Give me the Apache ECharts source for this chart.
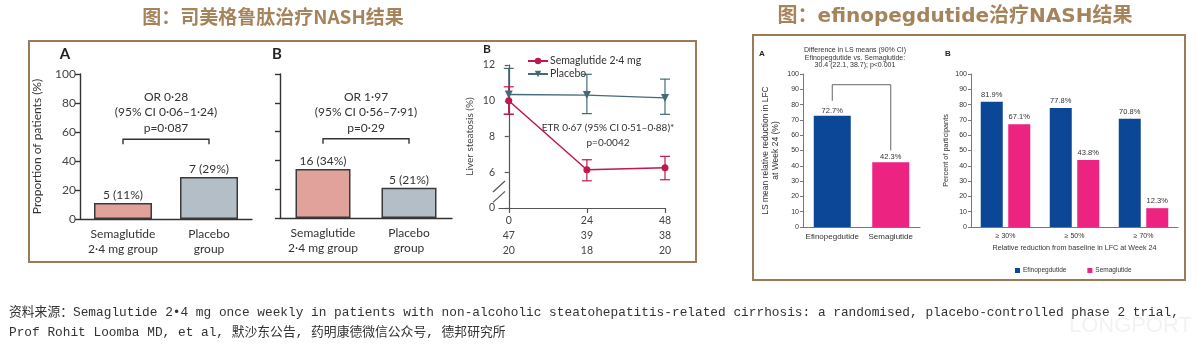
<!DOCTYPE html>
<html><head><meta charset="utf-8">
<script src="https://cdn.jsdelivr.net/npm/echarts@6/dist/echarts.min.js"></script>
<style>html,body{margin:0;padding:0;background:#fff}#c{width:1197px;height:348px}</style>
</head><body><div id="c"></div>
<script>
// ---------- data ----------
const catsA = ['Semaglutide\n2·4 mg group', 'Placebo\ngroup'];
const countsA = [5, 7];
const pctA = [11, 29];
const countsB = [16, 5];
const pctB = [34, 21];
const annotA = ['OR 0·28', '(95% CI 0·06–1·24)', 'p=0·087'];
const annotB = ['OR 1·97', '(95% CI 0·56–7·91)', 'p=0·29'];

const weeks = [0, 24, 48];
const nSema = [47, 39, 38];
const nPlac = [20, 18, 20];
const semaMean = [10.0, 6.14, 6.25];
const semaLow = [9.24, 5.52, 5.58];
const semaHigh = [10.78, 6.70, 6.89];
const placMean = [10.35, 10.32, 10.16];
const placLow = [9.25, 9.28, 9.24];
const placHigh = [11.81, 11.48, 11.21];
const annotLine = ['ETR 0·67 (95% CI 0·51–0·88)*', 'p=0·0042'];

const efCatsA = ['Efinopegdutide', 'Semaglutide'];
const efValsA = [72.7, 42.3];
const annotEf = ['Difference in LS means (90% CI)', 'Efinopegdutide vs. Semaglutide:', '30.4 (22.1, 38.7); p<0.001'];
const efCatsB = ['≥ 30%', '≥ 50%', '≥ 70%'];
const efinoB = [81.9, 77.8, 70.8];
const semaB = [67.1, 43.8, 12.3];

const titleLeft = '图：司美格鲁肽治疗NASH结果';
const titleRight = '图：efinopegdutide治疗NASH结果';
const source1 = '资料来源：Semaglutide 2•4 mg once weekly in patients with non-alcoholic steatohepatitis-related cirrhosis: a randomised, placebo-controlled phase 2 trial,';
const source2 = 'Prof Rohit Loomba MD, et al, 默沙东公告, 药明康德微信公众号, 德邦研究所';

// ---------- styles ----------
const LF = 'Lato, "Open Sans", sans-serif';
const AF = '"Liberation Sans", Arial, sans-serif';
const ink = '#333';
const cSal = '#e0a29b', cGrey = '#b4bec7';
const cSema = '#c0174c', cPlac = '#426b75';
const cBlue = '#0c4696', cPink = '#ec2380';
const LFS = 12;

const chart = echarts.init(document.getElementById('c'), null, {renderer: 'canvas'});

function lancetCatAxis(grid) {
  return {type: 'category', gridIndex: grid, data: catsA,
    axisLine: {lineStyle: {color: ink, width: 1.4}},
    axisTick: {length: 5, lineStyle: {color: ink, width: 1.4}},
    axisLabel: {interval: 0, color: ink, fontFamily: LF, fontSize: LFS, lineHeight: 15, margin: 8}};
}
function lancetValAxis(grid, showLabel) {
  return {type: 'value', gridIndex: grid, min: 0, max: 100, interval: 20,
    axisLine: {show: true, lineStyle: {color: ink, width: 1.4}},
    axisTick: {show: true, length: 5, lineStyle: {color: ink, width: 1.4}},
    axisLabel: {show: showLabel, color: '#444', fontFamily: LF, fontSize: LFS, margin: 4},
    splitLine: {show: false}};
}
function efCatAxis(grid, data, fs) {
  return {type: 'category', gridIndex: grid, data: data,
    axisLine: {lineStyle: {color: '#777', width: 1}},
    axisTick: {length: 3, lineStyle: {color: '#777'}},
    axisLabel: {interval: 0, color: '#333', fontFamily: AF, fontSize: fs, margin: 6}};
}
function efValAxis(grid, name, gap, nfs) {
  return {type: 'value', gridIndex: grid, min: 0, max: 100, interval: 10,
    name: name, nameLocation: 'middle', nameGap: gap,
    nameTextStyle: {color: '#333', fontFamily: AF, fontSize: nfs, lineHeight: 10},
    axisLine: {show: true, lineStyle: {color: '#777', width: 1}},
    axisTick: {show: true, length: 3, lineStyle: {color: '#777'}},
    axisLabel: {color: '#333', fontFamily: AF, fontSize: 7, margin: 4},
    splitLine: {show: false}};
}

function bracketRender(color, lw) {
  return function (params, api) {
    const x0 = api.value(0), x1 = api.value(1), yTop = api.value(2), yL = api.value(3), yR = api.value(4);
    const a = api.coord([x0, yL]), b = api.coord([x0, yTop]), c = api.coord([x1, yTop]), d = api.coord([x1, yR]);
    return {type: 'polyline', shape: {points: [a, b, c, d]}, style: {stroke: color, lineWidth: lw, fill: null}};
  };
}
function errRender(color) {
  return function (params, api) {
    const x = api.value(0);
    const lo = api.coord([x, api.value(1)]), hi = api.coord([x, api.value(2)]);
    const w = 5;
    return {type: 'group', children: [
      {type: 'line', shape: {x1: lo[0], y1: lo[1], x2: hi[0], y2: hi[1]}, style: {stroke: color, lineWidth: 1.2}},
      {type: 'line', shape: {x1: lo[0] - w, y1: lo[1], x2: lo[0] + w, y2: lo[1]}, style: {stroke: color, lineWidth: 1.2}},
      {type: 'line', shape: {x1: hi[0] - w, y1: hi[1], x2: hi[0] + w, y2: hi[1]}, style: {stroke: color, lineWidth: 1.2}}
    ]};
  };
}
function breakRender(params, api) {
  const x = api.value(0);
  const t = api.coord([x, api.value(1)]), b = api.coord([x, api.value(2)]);
  const dx = 6, dy = 5.5;
  return {type: 'group', children: [
    {type: 'rect', shape: {x: t[0] - 3, y: t[1] + 1, width: 6, height: b[1] - t[1] - 2}, style: {fill: '#fff'}},
    {type: 'line', shape: {x1: t[0] - dx, y1: t[1] + dy, x2: t[0] + dx, y2: t[1] - dy}, style: {stroke: '#555', lineWidth: 1.2}},
    {type: 'line', shape: {x1: b[0] - dx, y1: b[1] + dy, x2: b[0] + dx, y2: b[1] - dy}, style: {stroke: '#555', lineWidth: 1.2}}
  ]};
}

function txt(x, y, s, font, fill, align) {
  return {type: 'text', x: x, y: y, silent: true,
    style: {text: s, font: font, fill: fill || ink, textAlign: align || 'center', textVerticalAlign: 'middle'}};
}

const graphics = [
  {type: 'rect', shape: {x: 29, y: 41, width: 667, height: 221}, style: {stroke: '#9c7a56', lineWidth: 2, fill: null}, silent: true},
  {type: 'rect', shape: {x: 753, y: 35, width: 432, height: 245}, style: {stroke: '#9c7a56', lineWidth: 2, fill: null}, silent: true},
  txt(273, 17, titleLeft, 'bold 19px "Noto Sans CJK SC"', '#a5845c'),
  txt(955, 17, titleRight, 'bold 20px "DejaVu Sans", "Noto Sans CJK SC"', '#a5845c'),
  txt(65, 54, 'A', 'bold 15px ' + LF, '#222'),
  txt(277, 54, 'B', 'bold 15px ' + LF, '#222'),
  txt(487, 49, 'B', 'bold 12px ' + LF, '#222'),
  txt(762, 54, 'A', 'bold 8px ' + AF, '#222'),
  txt(948, 54, 'B', 'bold 8px ' + AF, '#222'),
  txt(9, 313, source1, '12.8px "Liberation Mono", "Noto Sans CJK SC"', '#333', 'left'),
  txt(9, 333, source2, '12.8px "Liberation Mono", "Noto Sans CJK SC"', '#333', 'left'),
  txt(1192, 326, 'LONGPORT', '22px "Liberation Sans"', 'rgba(0,0,0,0.05)', 'right')
];
annotA.forEach((s, i) => graphics.push(txt(166, 97 + i * 15.5, s, LFS + 'px ' + LF, ink)));
annotB.forEach((s, i) => graphics.push(txt(366, 97 + i * 15.5, s, LFS + 'px ' + LF, ink)));
annotLine.forEach((s, i) => graphics.push(txt(608, 128 + i * 15, s, '10px ' + LF, ink)));
annotEf.forEach((s, i) => graphics.push(txt(855, 50.5 + i * 7.2, s, '7px ' + AF, '#333')));

const option = {
  animation: false,
  backgroundColor: '#fff',
  textStyle: {fontFamily: LF},
  grid: [
    {left: 80, top: 74, width: 172, height: 145},
    {left: 280, top: 74, width: 172, height: 144},
    {left: 499, top: 65, width: 166, height: 143},
    {left: 803, top: 74, width: 117, height: 153},
    {left: 971, top: 74, width: 207, height: 153}
  ],
  legend: [
    {data: ['Semaglutide 2·4 mg', 'Placebo'], orient: 'vertical', left: 522, top: 50, itemGap: 1,
      itemWidth: 20, itemHeight: 8, selectedMode: false,
      textStyle: {color: ink, fontFamily: LF, fontSize: 10.5, lineHeight: 12, padding: [0, 0, 0, -3]}},
    {data: ['Efinopegdutide', 'Semaglutide'], left: 1010, top: 262, itemGap: 21, icon: 'rect',
      itemWidth: 5, itemHeight: 5, selectedMode: false,
      textStyle: {color: '#333', fontFamily: AF, fontSize: 6.5, padding: [0, 0, 0, -2]}}
  ],
  xAxis: [
    lancetCatAxis(0),
    lancetCatAxis(1),
    {type: 'value', gridIndex: 2, min: -3, max: 48,
      axisLine: {lineStyle: {color: '#555', width: 1.2}},
      axisTick: {customValues: weeks, length: 5, lineStyle: {color: '#555', width: 1.2}},
      axisLabel: {customValues: weeks, color: '#444', fontFamily: LF, fontSize: 10.5, lineHeight: 15, margin: 5,
        formatter: v => { const i = weeks.indexOf(v); return i < 0 ? '' : v + '\n' + nSema[i] + '\n' + nPlac[i]; }},
      splitLine: {show: false}},
    efCatAxis(3, efCatsA, 8),
    Object.assign(efCatAxis(4, efCatsB, 7), {name: 'Relative reduction from baseline in LFC at Week 24',
      nameLocation: 'middle', nameGap: 18, nameTextStyle: {color: '#333', fontFamily: AF, fontSize: 7.2}})
  ],
  yAxis: [
    Object.assign(lancetValAxis(0, true), {name: 'Proportion of patients (%)', nameLocation: 'middle', nameGap: 37,
      nameTextStyle: {color: ink, fontFamily: LF, fontSize: LFS}}),
    lancetValAxis(1, false),
    {type: 'value', gridIndex: 2, min: 4, max: 12, interval: 2,
      name: 'Liver steatosis (%)', nameLocation: 'middle', nameGap: 24,
      nameTextStyle: {color: '#444', fontFamily: LF, fontSize: 10},
      axisLine: {show: true, lineStyle: {color: '#555', width: 1.2}},
      axisTick: {show: true, length: 4, lineStyle: {color: '#555', width: 1.2}},
      axisLabel: {color: '#444', fontFamily: LF, fontSize: 10.5, margin: 4, formatter: v => v === 4 ? '0' : String(v)},
      splitLine: {show: false}},
    efValAxis(3, 'LS mean relative reduction in LFC\nat Week 24 (%)', 22, 8.5),
    efValAxis(4, 'Percent of participants', 19, 7.3)
  ],
  series: [
    {type: 'bar', name: 'A', xAxisIndex: 0, yAxisIndex: 0, barWidth: 58,
      data: pctA.map((v, i) => ({value: v, itemStyle: {color: i === 0 ? cSal : cGrey}})),
      itemStyle: {borderColor: '#3a3a3a', borderWidth: 1.5},
      label: {show: true, position: 'top', distance: 2, color: ink, fontFamily: LF, fontSize: LFS,
        formatter: p => countsA[p.dataIndex] + ' (' + pctA[p.dataIndex] + '%)'}},
    {type: 'bar', name: 'B', xAxisIndex: 1, yAxisIndex: 1, barWidth: 55,
      data: pctB.map((v, i) => ({value: v, itemStyle: {color: i === 0 ? cSal : cGrey}})),
      itemStyle: {borderColor: '#3a3a3a', borderWidth: 1.5},
      label: {show: true, position: 'top', distance: 2, color: ink, fontFamily: LF, fontSize: LFS,
        formatter: p => countsB[p.dataIndex] + ' (' + pctB[p.dataIndex] + '%)'}},
    {type: 'custom', xAxisIndex: 0, yAxisIndex: 0, silent: true, renderItem: bracketRender(ink, 1.4),
      data: [[0, 1, 55, 51.5, 51.5]], encode: {x: 0, y: 2}},
    {type: 'custom', xAxisIndex: 1, yAxisIndex: 1, silent: true, renderItem: bracketRender(ink, 1.4),
      data: [[0, 1, 55, 51.5, 51.5]], encode: {x: 0, y: 2}},
    {type: 'custom', xAxisIndex: 2, yAxisIndex: 2, silent: true, renderItem: errRender(cPlac),
      data: weeks.map((w, i) => [w, placLow[i], placHigh[i]]), encode: {x: 0, y: [1, 2]}},
    {type: 'custom', xAxisIndex: 2, yAxisIndex: 2, silent: true, renderItem: errRender(cSema),
      data: weeks.map((w, i) => [w, semaLow[i], semaHigh[i]]), encode: {x: 0, y: [1, 2]}},
    {type: 'line', name: 'Placebo', xAxisIndex: 2, yAxisIndex: 2, color: cPlac,
      data: weeks.map((w, i) => [w, placMean[i]]), symbol: 'triangle', symbolRotate: 180, symbolSize: 8,
      lineStyle: {width: 1.3, color: cPlac}, itemStyle: {color: cPlac}},
    {type: 'line', name: 'Semaglutide 2·4 mg', xAxisIndex: 2, yAxisIndex: 2, color: cSema,
      data: weeks.map((w, i) => [w, semaMean[i]]), symbol: 'circle', symbolSize: 7,
      lineStyle: {width: 1.5, color: cSema}, itemStyle: {color: cSema}},
    {type: 'custom', xAxisIndex: 2, yAxisIndex: 2, silent: true, renderItem: breakRender, z: 10,
      data: [[-3, 5.2, 4.62]], encode: {x: 0, y: [1, 2]}},
    {type: 'bar', name: 'LS mean', xAxisIndex: 3, yAxisIndex: 3, barWidth: 37,
      data: efValsA.map((v, i) => ({value: v, itemStyle: {color: i === 0 ? cBlue : cPink}})),
      label: {show: true, position: 'top', distance: 1, color: '#333', fontFamily: AF, fontSize: 7.5,
        formatter: p => p.value + '%'}},
    {type: 'custom', xAxisIndex: 3, yAxisIndex: 3, silent: true, renderItem: bracketRender('#666', 1),
      data: [[0, 1, 93, 82.5, 50]], encode: {x: 0, y: 2}},
    {type: 'bar', name: 'Efinopegdutide', xAxisIndex: 4, yAxisIndex: 4, barWidth: 22, barGap: '25%',
      data: efinoB, itemStyle: {color: cBlue},
      label: {show: true, position: 'top', distance: 3, color: '#333', fontFamily: AF, fontSize: 7.5, formatter: p => p.value + '%'}},
    {type: 'bar', name: 'Semaglutide', xAxisIndex: 4, yAxisIndex: 4, barWidth: 22, barGap: '25%',
      data: semaB, itemStyle: {color: cPink},
      label: {show: true, position: 'top', distance: 3, color: '#333', fontFamily: AF, fontSize: 7.5, formatter: p => p.value + '%'}}
  ],
  graphic: graphics
};
chart.setOption(option);
</script></body></html>
